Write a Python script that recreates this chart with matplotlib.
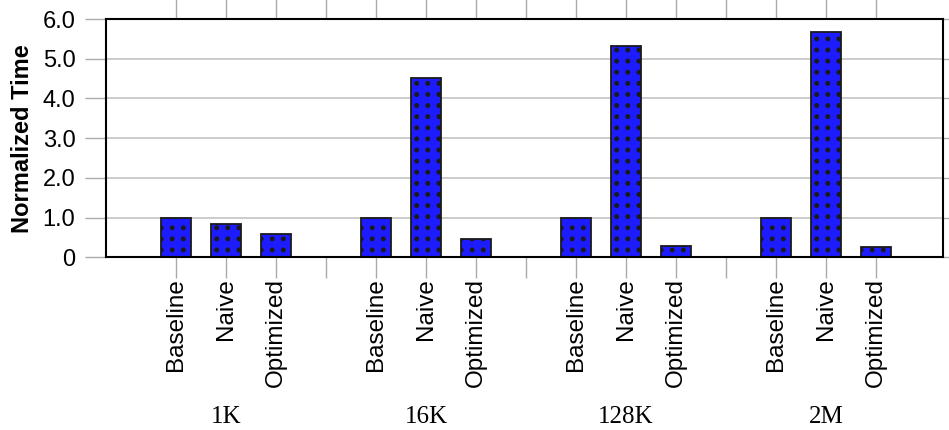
import numpy as np
import matplotlib
matplotlib.use("Agg")
import matplotlib.pyplot as plt
import matplotlib.transforms as mtransforms
from matplotlib import hatch as mhatch
from matplotlib.path import Path

# Data
groups = ["1K", "16K", "128K", "2M"]
variants = ["Baseline", "Naive", "Optimized"]
baseline = [1.0, 1.0, 1.0, 1.0]
naive = [0.85, 4.52, 5.33, 5.67]
optimized = [0.58, 0.46, 0.29, 0.27]
yticks = [0, 1, 2, 3, 4, 5, 6]
ytick_labels = ["0", "1.0", "2.0", "3.0", "4.0", "5.0", "6.0"]


class GridDots(mhatch.HatchPatternBase):
    """Filled dots on a square grid (replaces the staggered '.' hatch)."""

    def __init__(self, hatch, density):
        self.n = hatch.count('.') * 9
        circ = Path.unit_circle()
        self.cv = circ.vertices
        self.cc = circ.codes
        self.num_vertices = len(self.cv) * self.n * self.n if self.n else 0

    def set_vertices_and_codes(self, vertices, codes):
        r = 0.019
        k = len(self.cv)
        idx = 0
        for i in range(self.n):
            for j in range(self.n):
                cx = (i + 0.5) / self.n
                cy = (j + 0.5) / self.n
                vertices[idx:idx + k] = self.cv * r + [cx, cy]
                codes[idx:idx + k] = self.cc
                idx += k


mhatch._hatch_types = [GridDots if t is mhatch.SmallFilledCircles else t
                       for t in mhatch._hatch_types]

plt.rcParams['font.family'] = ['Liberation Sans', 'DejaVu Sans']
plt.rcParams['hatch.linewidth'] = 0.8
plt.rcParams['hatch.color'] = 'black'

fig = plt.figure(figsize=(9.49, 4.30), dpi=100)
ax = fig.add_axes([0.1117, 0.4016, 0.8825, 0.5542])

series = [baseline, naive, optimized]
positions, heights, labels = [], [], []
for g in range(len(groups)):
    for v in range(len(variants)):
        positions.append(4 * g + v)
        heights.append(series[v][g])
        labels.append(variants[v])

ax.bar(positions, heights, width=0.6, color='#1c1cff', edgecolor='#1a1a1a',
       linewidth=1.3, hatch='.', zorder=3)

ax.set_xlim(-1.4, 15.35)
ax.set_ylim(0, 6)

ax.set_yticks(yticks)
ax.set_yticklabels(ytick_labels, fontsize=17)
ax.yaxis.grid(True, color='#c4c4c4', linewidth=1.2, zorder=0)
ax.set_axisbelow(True)

xt = list(range(0, 15))
ax.set_xticks(xt)
xlabels = [labels[positions.index(p)] if p in positions else '' for p in xt]
ax.set_xticklabels(xlabels, rotation=90, fontsize=17.5)

ax.tick_params(axis='x', which='both', direction='out', length=15, width=1,
               color='#aaaaaa', top=True, bottom=True, pad=0)
ax.tick_params(axis='y', which='both', direction='out', length=15, width=1,
               color='#aaaaaa', left=True, right=True, pad=7)

for s in ax.spines.values():
    s.set_linewidth(1.5)
    s.set_color('black')
    s.set_zorder(4)

ax.set_ylabel("Normalized Time", fontsize=17, fontweight='bold')
ax.yaxis.set_label_coords(-0.086, 0.5)

# Group labels under each cluster
group_tf = mtransforms.blended_transform_factory(ax.transData, fig.transFigure)
for g, name in enumerate(groups):
    ax.text(4 * g + 1, 0.030, name, transform=group_tf,
            ha='center', va='center', fontsize=18,
            family=['Liberation Serif', 'DejaVu Serif'])

fig.savefig("out.png", dpi=100)
